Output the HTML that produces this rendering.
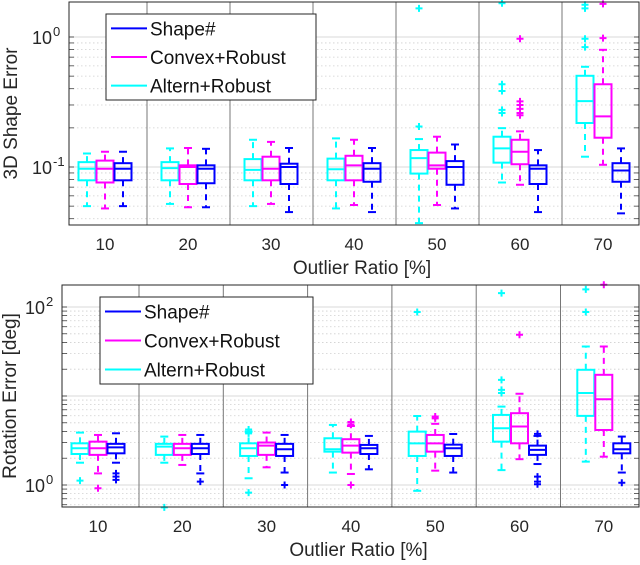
<!DOCTYPE html>
<html><head><meta charset="utf-8"><style>
html,body{margin:0;padding:0;background:#fff;}
svg{display:block;font-family:"Liberation Sans",sans-serif;}
</style></head><body>
<svg id="chart" width="640" height="565" viewBox="0 0 640 565" xmlns="http://www.w3.org/2000/svg"></svg>
<script>
// categories
const categories = ["10","20","30","40","50","60","70"];
const seriesNames = ["Altern+Robust","Convex+Robust","Shape#"];
const seriesColors = ["#00ffff","#ff00ff","#0000ff"];
// top plot: [lowWhisker, q1, median, q3, highWhisker] per group
const shapeAltern = [[0.050,0.079,0.097,0.109,0.127],[0.052,0.079,0.098,0.109,0.139],[0.050,0.079,0.095,0.115,0.162],[0.048,0.079,0.096,0.116,0.166],[0.037,0.089,0.117,0.135,0.164],[0.076,0.108,0.139,0.171,0.199],[0.120,0.218,0.321,0.503,0.59]];
const shapeConvex = [[0.048,0.076,0.097,0.112,0.131],[0.049,0.074,0.100,0.103,0.140],[0.052,0.079,0.097,0.120,0.156],[0.051,0.079,0.103,0.122,0.162],[0.051,0.097,0.103,0.129,0.171],[0.073,0.105,0.131,0.162,0.188],[0.104,0.168,0.245,0.433,0.797]];
const shapeShape = [[0.050,0.079,0.097,0.107,0.131],[0.049,0.075,0.097,0.103,0.138],[0.045,0.074,0.100,0.106,0.140],[0.045,0.077,0.097,0.107,0.140],[0.048,0.073,0.100,0.111,0.149],[0.045,0.074,0.097,0.103,0.135],[0.044,0.077,0.094,0.107,0.139]];
const shapeAlternOut = [[],[],[],[],[0.205,1.66],[0.26,0.275,0.384,0.433,1.82],[0.836,0.97,1.66,1.77]];
const shapeConvexOut = [[],[],[],[],[],[0.25,0.26,0.28,0.30,0.32,0.97],[0.98,1.8]];
const shapeShapeOut = [[],[],[],[],[],[],[]];
// bottom plot
const rotAltern = [[1.78,2.23,2.59,2.94,3.88],[1.78,2.18,2.70,2.90,3.50],[1.19,2.12,2.59,2.94,3.98],[1.38,2.37,2.52,3.35,4.73],[0.86,2.12,2.94,3.98,5.96],[1.47,3.07,4.34,6.13,7.6],[1.83,5.98,10.8,19.7,36]];
const rotConvex = [[1.35,2.18,2.59,3.07,3.65],[1.68,2.18,2.59,2.90,3.65],[1.58,2.18,2.77,3.00,3.88],[1.33,2.31,2.77,3.27,4.6],[1.45,2.37,2.94,3.65,4.87],[1.95,2.94,4.54,6.41,10.6],[2.08,4.15,9.2,17.3,36]];
const rotShape = [[1.78,2.27,2.65,2.90,3.81],[1.35,2.23,2.59,2.90,3.65],[1.38,2.12,2.52,2.90,3.65],[1.50,2.23,2.59,2.82,3.56],[1.38,2.12,2.59,2.84,3.74],[1.72,2.18,2.48,2.77,3.56],[1.38,2.27,2.52,2.94,3.5]];
const rotAlternOut = [[1.12],[0.56],[3.8,4.2,0.82],[],[87.8],[10.8,11.7,15.2,143],[87.8,158]];
const rotConvexOut = [[0.92],[],[],[4.8,5.1,1.0],[5.6,5.88],[48.8],[178]];
const rotShapeOut = [[1.14,1.24,1.35],[1.09],[1.0],[],[],[1.02,1.09,1.24,3.75],[1.06]];
const topTicks = ["10^0","10^-1"];
const botTicks = ["10^2","10^0"];

const NS="http://www.w3.org/2000/svg";
const svg=document.getElementById('chart');
function mk(tag,attrs,parent){const e=document.createElementNS(NS,tag);for(const k in attrs)e.setAttribute(k,attrs[k]);(parent||svg).appendChild(e);return e;}

function drawPanel(cfg){
  const g=mk('g',{});
  
  
  const {L,R,T,B,y0px,decade,y0log,sep0,gw,c0}=cfg;
  const Y=v=>y0px-(Math.log10(v)-y0log)*decade;
  const X=i=>c0+gw*i;
  // grid
  const lo=Math.floor(y0log-(B-y0px)/decade)-1, hi=Math.ceil(y0log+(y0px-T)/decade)+1;
  for(let d=lo;d<=hi;d++){for(let m=1;m<10;m++){const v=m*Math.pow(10,d);const y=Y(v);if(y<T||y>B)continue;
    const ln=mk('line',{x1:L,x2:R,y1:y,y2:y,stroke:m===1?'#e6e6e6':'#cfcfcf','stroke-width':m===1?1.5:0.8,'stroke-dasharray':m===1?'':'1.5,2.5'},g);
    
    mk('line',{x1:L,x2:L+5,y1:y,y2:y,stroke:'#262626','stroke-width':0.7},g);mk('line',{x1:R-5,x2:R,y1:y,y2:y,stroke:'#262626','stroke-width':0.7},g);}}
  // separators
  for(let i=0;i<6;i++){const x=sep0+gw*i;const s=mk('line',{x1:x,x2:x,y1:T,y2:B,stroke:'#777','stroke-width':1},g);}
  // y tick labels
  cfg.ticks.forEach(t=>{const p=t.split('^');const v=Math.pow(10,+p[1]);const y=Y(v);
    const tg=mk('g',{},g);
    const tb=mk('text',{x:L-17,y:y+7,'text-anchor':'end','font-size':18,fill:'#262626'},tg);tb.textContent=p[0];
    const te=mk('text',{x:L-16,y:y-1,'text-anchor':'start','font-size':13,fill:'#262626'},tg);te.textContent=p[1];
  });
  // boxes
  const offs=[-18,0,18],hw=8.5;
  cfg.series.forEach((ser,si)=>{const col=seriesColors[si];
    ser.forEach((s,gi)=>{const cx=X(gi)+offs[si];const [lw,q1,md,q3,hw2]=s;
      const bg=mk('g',{},g);
      mk('line',{x1:cx,x2:cx,y1:Y(q3),y2:Y(hw2),stroke:col,'stroke-width':2,'stroke-dasharray':'6,5'},bg);
      mk('line',{x1:cx,x2:cx,y1:Y(q1),y2:Y(lw),stroke:col,'stroke-width':2,'stroke-dasharray':'6,5'},bg);
      mk('line',{x1:cx-4,x2:cx+4,y1:Y(hw2),y2:Y(hw2),stroke:col,'stroke-width':2},bg);
      mk('line',{x1:cx-4,x2:cx+4,y1:Y(lw),y2:Y(lw),stroke:col,'stroke-width':2},bg);
      mk('rect',{x:cx-hw,y:Y(q3),width:hw*2,height:Y(q1)-Y(q3),fill:'none',stroke:col,'stroke-width':2},bg);
      mk('line',{x1:cx-hw,x2:cx+hw,y1:Y(md),y2:Y(md),stroke:col,'stroke-width':2},bg);
      cfg.outs[si][gi].forEach(v=>{const y=Y(v);if(y<T-2||y>B+2)return;
        const o=mk('path',{d:`M${cx-3.5},${y}H${cx+3.5}M${cx},${y-3.5}V${y+3.5}`,stroke:col,'stroke-width':2},bg);
        });
    });
  });
  // axes box
  const ax=mk('rect',{x:L,y:T,width:R-L,height:B-T,fill:'none',stroke:'#262626','stroke-width':1},g);
  
  // x tick labels
  categories.forEach((c,i)=>{const t=mk('text',{x:X(i),y:B+25,'text-anchor':'middle','font-size':17,fill:'#262626'},g);t.textContent=c;});
  const xt=mk('text',{x:(L+R)/2+8,y:B+49,'text-anchor':'middle','font-size':19,fill:'#262626'},g);xt.textContent='Outlier Ratio [%]';
  
  const yt=mk('text',{x:0,y:0,'text-anchor':'middle','font-size':19,fill:'#262626',transform:`translate(${cfg.ytx},${(T+B)/2}) rotate(-90)`},g);yt.textContent=cfg.ytitle;
  
  // legend
  const lg=mk('g',{},g);
  const [lx,ly,lw2,lh]=cfg.legend;
  mk('rect',{x:lx,y:ly,width:lw2,height:lh,fill:'#fff',stroke:'#262626','stroke-width':1},lg);
  const order=[2,1,0];
  order.forEach((si,k)=>{const yy=ly+lh*(k+0.5)/3;
    const e=mk('g',{},lg);
    mk('line',{x1:lx+5,x2:lx+41,y1:yy,y2:yy,stroke:seriesColors[si],'stroke-width':2},e);
    const t=mk('text',{x:lx+44,y:yy+7,'font-size':19,fill:'#111'},e);t.textContent=seriesNames[si];});
}
drawPanel({name:'shape-error-panel',L:69,R:639,T:2,B:225,y0px:37,decade:130,y0log:0,sep0:147,gw:83,c0:105,ticks:topTicks,
  series:[shapeAltern,shapeConvex,shapeShape],outs:[shapeAlternOut,shapeConvexOut,shapeShapeOut],ytitle:'3D Shape Error',ytx:17,legend:[106,14,210,86]});
drawPanel({name:'rotation-error-panel',L:62,R:639,T:285,B:507,y0px:485,decade:89,y0log:0,sep0:139,gw:84.3,c0:98,ticks:botTicks,
  series:[rotAltern,rotConvex,rotShape],outs:[rotAlternOut,rotConvexOut,rotShapeOut],ytitle:'Rotation Error [deg]',ytx:16,legend:[100,297,213,87]});
</script>
</body></html>
